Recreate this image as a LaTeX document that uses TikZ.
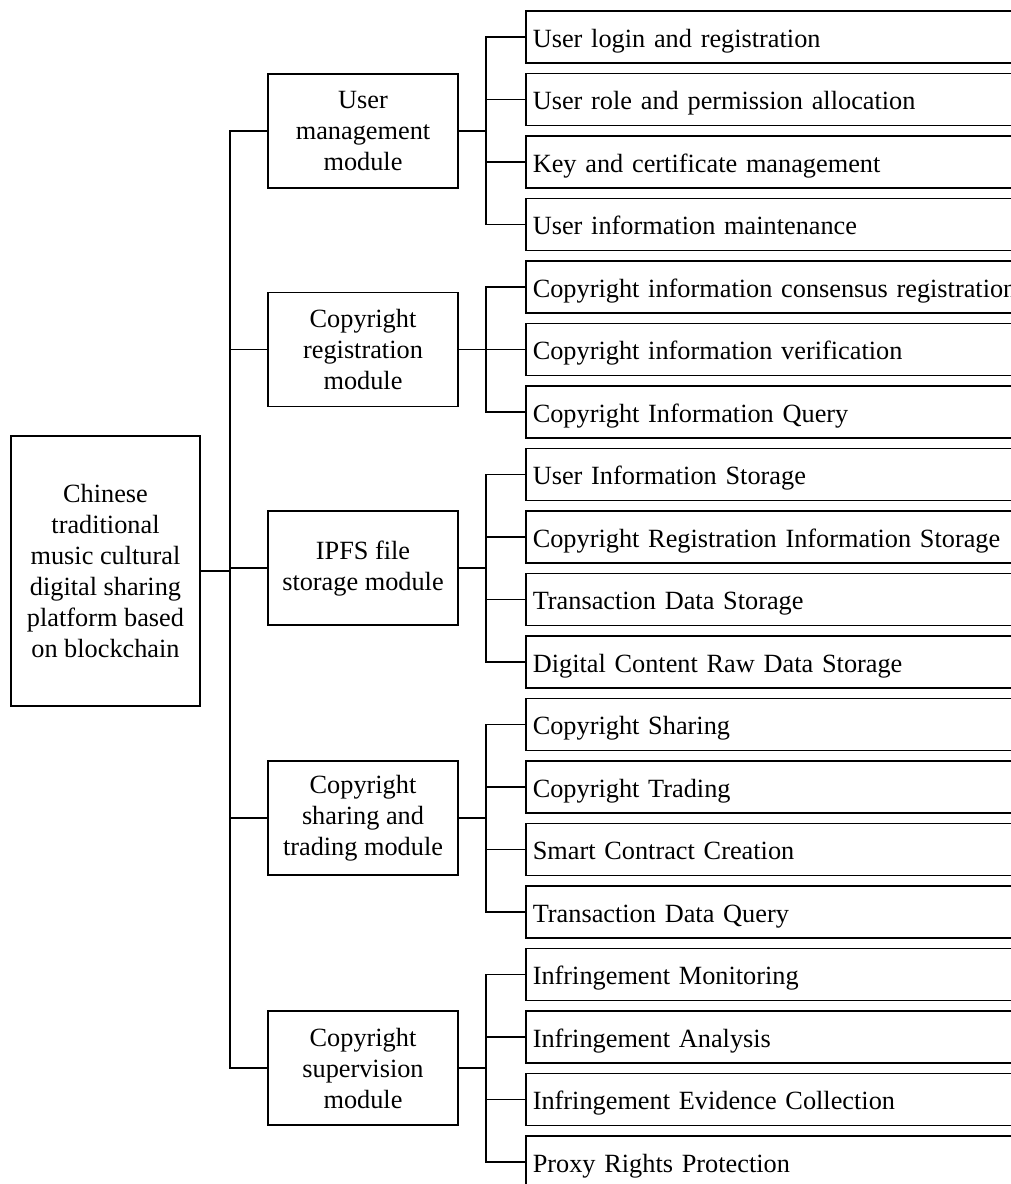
\documentclass[tikz,border=0pt]{standalone}
\usepackage{fontspec}
\setmainfont{Liberation Serif}
\begin{document}
\begin{tikzpicture}[x=1pt,y=-1pt,
  line width=1.6pt,
  box/.style={draw, line width=1.6pt, font=\fontsize{26.3}{31}\selectfont, inner sep=0pt},
  leaf/.style={box, anchor=west, minimum width=520pt, minimum height=52pt, text width=506pt, text height=26pt, text depth=6pt, align=left, inner xsep=7pt},
  module/.style={box, minimum width=190pt, minimum height=114pt, align=center},
  rootbox/.style={box, minimum width=189pt, minimum height=270pt, align=center}
]
\useasboundingbox (0,0) rectangle (1011,1184);
\clip (0,0) rectangle (1011,1184);
\fill[white] (0,0) rectangle (1011,1184);

\node[rootbox] (root) at (105.5,571) {Chinese\\traditional\\music cultural\\digital sharing\\platform based\\on blockchain};

\node[module] (m1) at (363,130.75) {User\\management\\module};
\node[module] (m2) at (363,349.5) {Copyright\\registration\\module};
\node[module] (m3) at (363,568.25) {IPFS file\\storage module};
\node[module] (m4) at (363,818.25) {Copyright\\sharing and\\trading module};
\node[module] (m5) at (363,1068.25) {Copyright\\supervision\\module};

\foreach \i/\t in {1/User login and registration,
  2/User role and permission allocation,
  3/Key and certificate management,
  4/User information maintenance,
  5/Copyright information consensus registration,
  6/Copyright information verification,
  7/Copyright Information Query,
  8/User Information Storage,
  9/Copyright Registration Information Storage,
  10/Transaction Data Storage,
  11/Digital Content Raw Data Storage,
  12/Copyright Sharing,
  13/Copyright Trading,
  14/Smart Contract Creation,
  15/Transaction Data Query,
  16/Infringement Monitoring,
  17/Infringement Analysis,
  18/Infringement Evidence Collection,
  19/Proxy Rights Protection}
  \node[leaf] (l\i) at (525,{37+62.5*(\i-1)}) {\t};

% trunk
\coordinate (T) at (230,571);
\draw (m1.west) -- (m1.west -| T) |- (m5.west);
\foreach \m in {m2,m3,m4} \draw (\m.west) -- (\m.west -| T);
\draw (root.east) -- (T);

% branches
\foreach \m/\a/\b/\mid in {m1/l1/l4/{l2,l3}, m2/l5/l7/{l6}, m3/l8/l11/{l9,l10}, m4/l12/l15/{l13,l14}, m5/l16/l19/{l17,l18}} {
  \draw (\m.east) -- ++(28,0);
  \draw (\a.west) -- ++(-39,0) |- (\b.west);
  \foreach \k in \mid \draw (\k.west) -- ++(-39,0);
}
\end{tikzpicture}
\end{document}
